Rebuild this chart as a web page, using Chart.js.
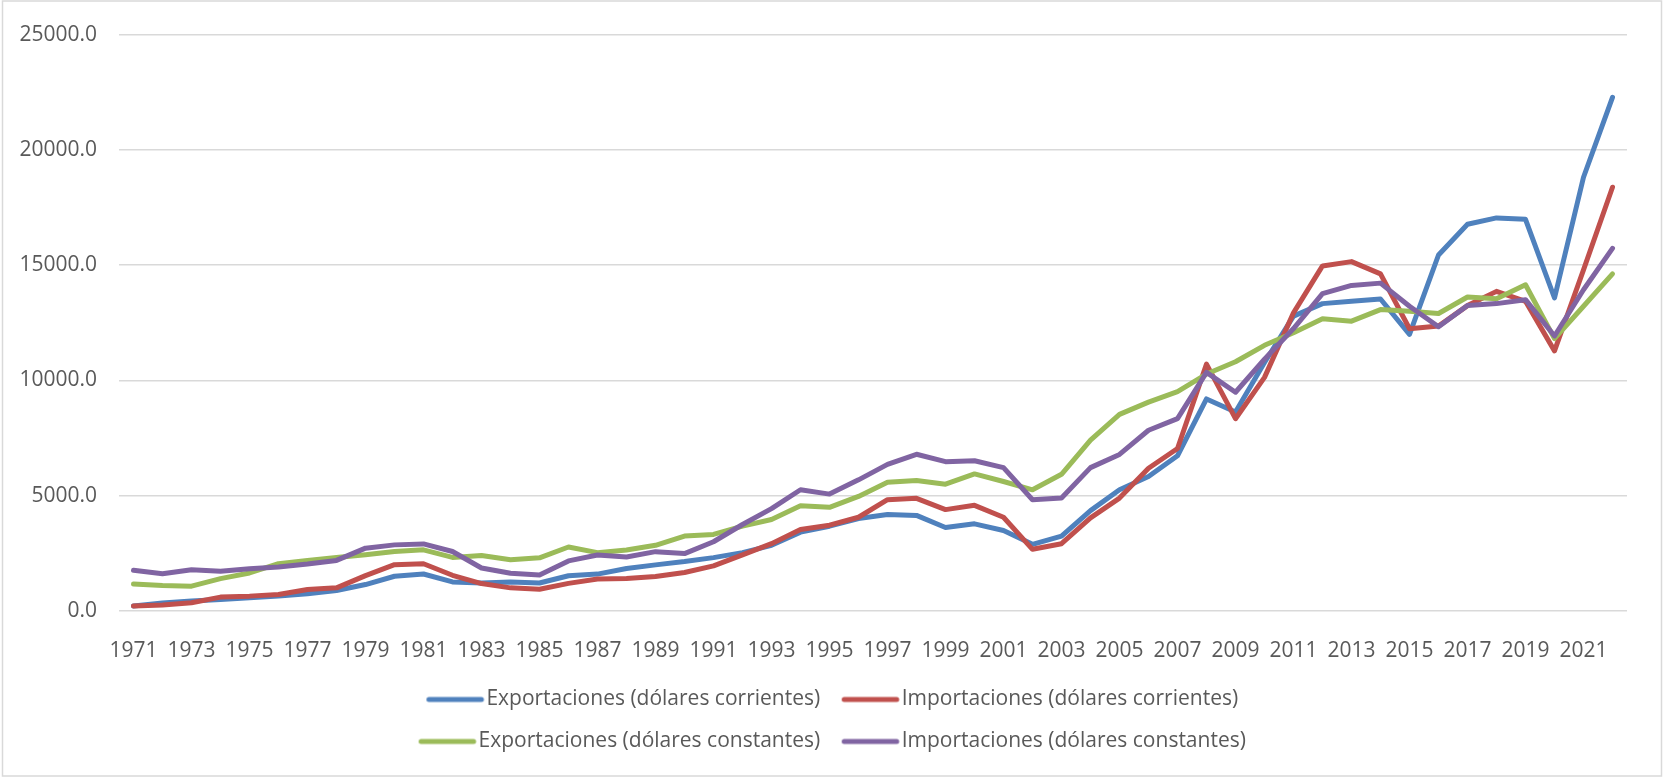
<!DOCTYPE html>
<html>
<head>
<meta charset="utf-8">
<script src="https://cdn.jsdelivr.net/npm/chart.js@4.4.1/dist/chart.umd.min.js"></script>
<style>
  html, body { margin: 0; padding: 0; background: #fff; }
  #wrap { width: 1664px; height: 777px; }
</style>
</head>
<body>
<div id="wrap"><canvas id="tradeChart" width="1664" height="777"></canvas></div>
<script>
const years = [
    '1971', '1972', '1973', '1974', '1975', '1976', '1977', '1978', '1979', '1980',
    '1981', '1982', '1983', '1984', '1985', '1986', '1987', '1988', '1989', '1990',
    '1991', '1992', '1993', '1994', '1995', '1996', '1997', '1998', '1999', '2000',
    '2001', '2002', '2003', '2004', '2005', '2006', '2007', '2008', '2009', '2010',
    '2011', '2012', '2013', '2014', '2015', '2016', '2017', '2018', '2019', '2020',
    '2021', '2022'
];

const exportsCurrent = [
    215, 344, 430, 502, 574, 645, 746, 889, 1147, 1506,
    1606, 1262, 1219, 1262, 1215, 1528, 1600, 1843, 2001, 2144,
    2316, 2531, 2848, 3421, 3679, 4011, 4183, 4146, 3622, 3780,
    3493, 2891, 3249, 4354, 5257, 5831, 6734, 9199, 8627, 10779,
    12790, 13332, 13432, 13533, 11998, 15440, 16774, 17049, 16990, 13576,
    18812, 22281
];

const importsCurrent = [
    215, 258, 358, 602, 645, 717, 932, 1004, 1534, 2008,
    2051, 1549, 1190, 1004, 943, 1197, 1385, 1413, 1499, 1671,
    1958, 2431, 2919, 3536, 3722, 4066, 4826, 4886, 4397, 4583,
    4066, 2675, 2918, 4038, 4897, 6189, 7050, 10707, 8341, 10134,
    12931, 14967, 15154, 14623, 12242, 12357, 13246, 13863, 13432, 11282,
    14795, 18381
];

const exportsConstant = [
    1176, 1104, 1076, 1405, 1649, 2051, 2194, 2323, 2438, 2581,
    2653, 2323, 2409, 2223, 2305, 2775, 2531, 2646, 2848, 3249,
    3320, 3679, 3966, 4570, 4497, 4970, 5585, 5658, 5499, 5945,
    5615, 5257, 5930, 7408, 8528, 9058, 9519, 10277, 10809, 11524,
    12070, 12672, 12572, 13074, 13002, 12902, 13619, 13547, 14149, 11812,
    13217, 14623
];

const importsConstant = [
    1764, 1620, 1793, 1720, 1835, 1907, 2036, 2194, 2725, 2868,
    2911, 2581, 1864, 1635, 1560, 2173, 2431, 2345, 2575, 2489,
    3004, 3751, 4440, 5258, 5070, 5689, 6360, 6798, 6476, 6519,
    6218, 4826, 4898, 6218, 6792, 7838, 8341, 10349, 9488, 10923,
    12250, 13762, 14121, 14221, 13217, 12328, 13246, 13332, 13504, 11929,
    13934, 15728
];

const seriesLabels = [
    'Exportaciones (dólares corrientes)',
    'Importaciones (dólares corrientes)',
    'Exportaciones (dólares constantes)',
    'Importaciones (dólares constantes)'
];

const colors = ['#4f81bd', '#c0504d', '#9bbb59', '#8064a2'];
const textColor = '#595959';
const fontFamily = '"Open Sans", "Liberation Sans", sans-serif';
const fontSize = 21;
const legendWidth = 1050;
const legendKeyWidth = 50;

// thin grey frame around the whole chart, like the office chart border
const frame = {
    id: 'frame',
    beforeDraw(chart) {
        const ctx = chart.ctx;
        ctx.save();
        ctx.fillStyle = '#ffffff';
        ctx.fillRect(0, 0, chart.width, chart.height);
        ctx.strokeStyle = '#d9d9d9';
        ctx.lineWidth = 1.5;
        ctx.strokeRect(2.5, 1, chart.width - 5, chart.height - 2);
        ctx.restore();
    }
};

// make the legend wrap into two rows of two items, centred
const legendRows = {
    id: 'legendRows',
    beforeLayout(chart) {
        const lg = chart.legend;
        if (!lg || lg._rowsPatched) return;
        lg._rowsPatched = true;
        const update = lg.update;
        lg.update = function(maxWidth, maxHeight, margins) {
            return update.call(this, Math.min(maxWidth, legendWidth), maxHeight, margins);
        };
    },
    afterLayout(chart) {
        const lg = chart.legend;
        if (!lg) return;
        const w = Math.min(chart.width, legendWidth);
        lg.left = (chart.width - w) / 2;
        lg.right = lg.left + w;
        lg.width = w;
    }
};

// legend key: a short line that runs right up to the label text
function legendKey(color) {
    const c = document.createElement('canvas');
    c.width = legendKeyWidth + fontSize;
    c.height = 8;
    const g = c.getContext('2d');
    g.strokeStyle = color;
    g.lineWidth = 5;
    g.lineCap = 'round';
    g.beginPath();
    g.moveTo(fontSize / 2 + 3, 4);
    g.lineTo(c.width - 5, 4);
    g.stroke();
    return c;
}

function makeSeries(label, data, color, order) {
    return {
        label: label,
        data: data,
        borderColor: color,
        backgroundColor: color,
        borderWidth: 5,
        pointRadius: 0,
        pointHoverRadius: 0,
        pointStyle: legendKey(color),
        tension: 0,
        borderCapStyle: 'round',
        borderJoinStyle: 'round',
        order: order
    };
}

var ctx = document.getElementById('tradeChart').getContext('2d');

var tradeChart = new Chart(ctx, {
    type: 'line',
    data: {
        labels: years,
        datasets: [
            makeSeries(seriesLabels[0], exportsCurrent, colors[0], 4),
            makeSeries(seriesLabels[1], importsCurrent, colors[1], 3),
            makeSeries(seriesLabels[2], exportsConstant, colors[2], 2),
            makeSeries(seriesLabels[3], importsConstant, colors[3], 1)
        ]
    },
    options: {
        responsive: false,
        animation: false,
        devicePixelRatio: 1,
        layout: { padding: { left: 0, right: 37, top: 29, bottom: 15 } },
        plugins: {
            tooltip: { enabled: false },
            legend: {
                position: 'bottom',
                labels: {
                    usePointStyle: true,
                    pointStyleWidth: legendKeyWidth,
                    boxHeight: fontSize,
                    padding: 21,
                    color: textColor,
                    font: { family: fontFamily, size: fontSize },
                    sort: (a, b) => a.datasetIndex - b.datasetIndex
                }
            }
        },
        scales: {
            x: {
                offset: true,
                grid: { display: false },
                border: { display: false },
                ticks: {
                    autoSkip: false,
                    maxRotation: 0,
                    minRotation: 0,
                    padding: 19,
                    color: textColor,
                    font: { family: fontFamily, size: fontSize },
                    callback: function(value, index) {
                        return index % 2 === 0 ? this.getLabelForValue(value) : '';
                    }
                },
                afterFit: function(scale) { scale.height = 57; }
            },
            y: {
                min: 0,
                max: 25000,
                border: { display: false },
                grid: { color: '#d9d9d9', lineWidth: 1.5, drawTicks: false },
                ticks: {
                    stepSize: 5000,
                    padding: 22,
                    color: textColor,
                    font: { family: fontFamily, size: fontSize },
                    callback: value => value.toFixed(1)
                },
                afterFit: function(scale) { scale.width = 119; }
            }
        }
    },
    plugins: [frame, legendRows]
});
</script>
</body>
</html>
